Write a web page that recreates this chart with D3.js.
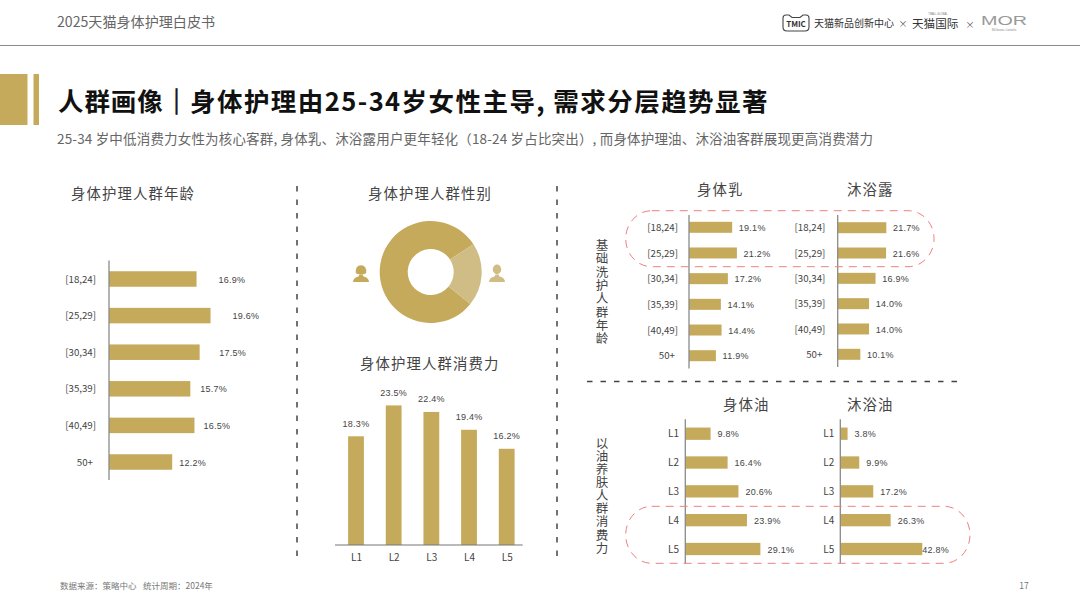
<!DOCTYPE html>
<html><head><meta charset="utf-8">
<script src="https://cdn.jsdelivr.net/npm/d3@7/dist/d3.min.js"></script>
<style>
html,body{margin:0;padding:0;background:#fff;overflow:hidden}
svg{display:block}
text{font-family:"Noto Sans CJK SC","Noto Sans",sans-serif}
.pct{font-family:"Liberation Sans",Arial,sans-serif;font-size:9px;fill:#444;letter-spacing:.25px}
</style></head><body>
<svg id="c" width="1080" height="606"></svg>
<script>
// ---------- data ----------
const ageCats = ["[18,24]","[25,29]","[30,34]","[35,39]","[40,49]","50+"];
const levelCats = ["L1","L2","L3","L4","L5"];
const ageAll = [16.9,19.6,17.5,15.7,16.5,12.2];
const spendAll = [18.3,23.5,22.4,19.4,16.2];
const genderLabels = ["女性","男性"];
const genderShare = [80,20];
const lotionAge = [19.1,21.2,17.2,14.1,14.4,11.9];
const washAge = [21.7,21.6,16.9,14.0,14.0,10.1];
const bodyOilSpend = [9.8,16.4,20.6,23.9,29.1];
const bathOilSpend = [3.8,9.9,17.2,26.3,42.8];

// ---------- palette ----------
const GOLD="#c5aa5b", GOLD_L="#cfbd85", AXIS="#8a8a8a", INK="#444", RED="#ee8080";
const svg=d3.select("#c");

function txt(s,x,y,o={}){
  const t=svg.append("text").attr("x",x).attr("y",y).text(s)
    .attr("font-size",o.size||12).attr("fill",o.fill||INK)
    .attr("text-anchor",o.anchor||"start");
  if(o.weight)t.attr("font-weight",o.weight);
  if(o.ls)t.attr("letter-spacing",o.ls);
  if(o.family)t.style("font-family",o.family);
  return t;
}
function line(x1,y1,x2,y2,c,w,dash){
  const l=svg.append("line").attr("x1",x1).attr("y1",y1).attr("x2",x2).attr("y2",y2)
    .attr("stroke",c).attr("stroke-width",w);
  if(dash)l.attr("stroke-dasharray",dash);
  return l;
}

// ---------- page chrome ----------
txt("2025天猫身体护理白皮书",57,27,{size:14.1,fill:"#666"});
line(0,45.5,1080,45.5,"#8c8c8c",1.2);
svg.append("rect").attr("x",0).attr("y",74).attr("width",27.5).attr("height",51).attr("fill",GOLD);
svg.append("rect").attr("x",33.5).attr("y",74).attr("width",5.5).attr("height",51).attr("fill",GOLD);
const TT={size:25.5,weight:700,fill:"#111"};
txt("人群画像",58,111,{...TT,ls:"0.9px"});
txt("｜",176.5,111,{...TT,anchor:"middle"}).attr("stroke","#111").attr("stroke-width",0.8);
txt("身体护理由25-34岁女性主导, 需求分层趋势显著",190,111,{...TT,ls:"1.45px"});
txt("25-34 岁中低消费力女性为核心客群, 身体乳、沐浴露用户更年轻化（18-24 岁占比突出）, 而身体护理油、沐浴油客群展现更高消费潜力",57,143.5,{size:13.5,fill:"#666",ls:"0.17px"});
txt("数据来源：策略中心",60,589,{size:8.5,fill:"#777"});
txt("统计周期：2024年",143,589,{size:8.5,fill:"#777"});
txt("17",1024,589,{size:8.5,fill:"#777",anchor:"middle"});

// logos
const logo=svg.append("g");
logo.append("path").attr("d","M783 18 q0-3 3-3 l3 0 l3 2.5 h8 l3-2.5 l3 0 q3 0 3 3 v9 q0 4-4 4 h-18 q-4 0-4-4z")
  .attr("fill","none").attr("stroke","#444").attr("stroke-width",1.1);
txt("TMIC",796,27,{size:8,weight:700,fill:"#333",anchor:"middle"});
txt("天猫新品创新中心",814,27,{size:10,fill:"#333"});
txt("×",903,27,{size:9,fill:"#555",anchor:"middle"});
txt("TMALL GLOBAL",938,14.5,{size:2.6,fill:"#777",anchor:"middle",family:"Liberation Sans"});
txt("天猫国际",912,28,{size:11.6,fill:"#333"});
txt("×",970,28,{size:9,fill:"#555",anchor:"middle"});
txt("MOR",981,25,{size:12,fill:"#999",family:"Liberation Sans"})
  .attr("textLength",46).attr("lengthAdjust","spacingAndGlyphs");
txt("Melbourne Australia",1004,31,{size:3,fill:"#888",anchor:"middle",family:"Liberation Serif"});

// dividers
line(297,186,297,559,"#444",1.5,"5.5 8");
line(557,186,557,559,"#444",1.5,"5.5 8");
line(587,381.5,958,381.5,"#444",1.5,"5.5 8");

// section titles
const H={size:14.4,fill:"#444",ls:"1.1px"};
txt("身体护理人群年龄",71,199,H);
txt("身体护理人群性别",368,199,H);
txt("身体护理人群消费力",360,369,H);
txt("身体乳",697,195,H);
txt("沐浴露",847,195,H);
txt("身体油",723,410,H);
txt("沐浴油",847,410,H);

// vertical group labels
function vert(s,x,y,ls){
  svg.append("text").attr("x",x).attr("y",y).text(s)
    .attr("font-size",12.5).attr("fill",INK)
    .style("writing-mode","vertical-rl").style("text-orientation","upright")
    .style("letter-spacing",ls+"px");
}
vert("基础洗护人群年龄",602,239,0.85);
vert("以油养肤人群消费力",602,436.5,0.65);

// ---------- horizontal bars ----------
function hbar(cfg){
  const x=d3.scaleLinear().domain([0,100]).range([cfg.x0,cfg.x0+cfg.perPct*100]);
  const y=d3.scalePoint().domain(cfg.cats).range(cfg.yRange);
  const g=svg.append("g");
  g.selectAll("rect").data(cfg.values).join("rect")
    .attr("x",x(0)).attr("y",(d,i)=>y(cfg.cats[i])-cfg.h/2)
    .attr("width",d=>x(d)-x(0)).attr("height",cfg.h).attr("fill",GOLD);
  g.selectAll("text.pct").data(cfg.values).join("text").attr("class","pct")
    .attr("x",(d,i)=>x(d)+(cfg.gaps?cfg.gaps[i]:cfg.gap))
    .attr("y",(d,i)=>y(cfg.cats[i])+3.6).text(d=>d.toFixed(1)+"%");
  const ax=g.append("g").attr("transform",`translate(${cfg.x0},0)`)
    .call(d3.axisLeft(y).tickSize(0).tickPadding(cfg.pad));
  ax.select(".domain").remove();
  ax.selectAll("text").attr("font-size",cfg.fs).attr("fill",INK)
    .style("font-family",'"Noto Sans CJK SC"');
  ax.selectAll("text").filter(d=>d==="50+").attr("dx",cfg.plusDx||0);
  line(cfg.x0,cfg.axis[0],cfg.x0,cfg.axis[1],AXIS,1.3);
}
const leftGaps=[22,22,19.5,10,9,7];
hbar({cats:ageCats,values:ageAll,x0:109,perPct:5.18,yRange:[279,462],h:15.5,gaps:leftGaps,pad:13,fs:9.7,axis:[260.5,480],plusDx:-3});
hbar({cats:ageCats,values:lotionAge,x0:689,perPct:2.26,yRange:[227.3,355.7],h:11,gap:6.7,pad:11,fs:9.7,axis:[215,368.5],plusDx:-3});
hbar({cats:ageCats,values:washAge,x0:837.7,perPct:2.24,yRange:[227.7,354.3],h:11,gap:6.7,pad:12.4,fs:9.7,axis:[215,367],plusDx:-3});
hbar({cats:levelCats,values:bodyOilSpend,x0:685.3,perPct:2.58,yRange:[433.7,549],h:12.3,gap:7,pad:6.3,fs:10,axis:[419.3,563.5]});
hbar({cats:levelCats,values:bathOilSpend,x0:840.3,perPct:1.915,yRange:[433.7,549],h:12.3,gaps:[7,7,7,7,0],pad:6,fs:10,axis:[419.3,563.5]});

// ---------- columns ----------
{
  const x=d3.scalePoint().domain(levelCats).range([356,506.7]);
  const y=d3.scaleLinear().domain([0,100]).range([545,545-594]);
  const g=svg.append("g");
  g.selectAll("rect").data(spendAll).join("rect")
    .attr("x",(d,i)=>x(levelCats[i])-7.9).attr("width",15.8)
    .attr("y",d=>y(d)).attr("height",d=>y(0)-y(d)).attr("fill",GOLD);
  g.selectAll("text.pct").data(spendAll).join("text").attr("class","pct")
    .attr("text-anchor","middle").attr("x",(d,i)=>x(levelCats[i]))
    .attr("y",d=>y(d)-9.5).text(d=>d.toFixed(1)+"%");
  const ax=g.append("g").attr("transform","translate(0,545)")
    .call(d3.axisBottom(x).tickSize(0).tickPadding(9));
  ax.select(".domain").remove();
  ax.selectAll("text").attr("font-size",10).attr("fill",INK).style("font-family",'"Noto Sans CJK SC"');
  line(335,545,522.7,545,"#777",1.2);
}

// ---------- donut ----------
{
  const start=129/180*Math.PI;
  const pie=d3.pie().sort(null).startAngle(start).endAngle(start+2*Math.PI);
  const arc=d3.arc().innerRadius(23).outerRadius(51);
  const g=svg.append("g").attr("transform","translate(430.7,272)");
  g.selectAll("path").data(pie(genderShare)).join("path")
    .attr("d",arc).attr("fill",(d,i)=>i===0?GOLD:GOLD_L)
    .append("title").text((d,i)=>genderLabels[i]);
}
// person icons
function person(cx,cy,c,hair){
  const g=svg.append("g").attr("transform",`translate(${cx},${cy})`).attr("fill",c);
  if(hair) g.append("path").attr("d","M-5.2-1 q-.6-7.8 5.2-7.8 q5.8 0 5.2 7.8 q-2 1.6-5.2 1.6 q-3.2 0-5.2-1.6z");
  else g.append("ellipse").attr("cx",0).attr("cy",-4.6).attr("rx",4.2).attr("ry",4.8);
  g.append("path").attr("d","M-8 8 q0-4.2 5.5-5.6 l1-2 h3 l1 2 q5.5 1.4 5.5 5.6z");
}
person(361,274,GOLD,true);
person(497,274,GOLD_L,false);

// ---------- dashed highlights ----------
function pill(x,y,w,h,rx){
  svg.append("rect").attr("x",x).attr("y",y).attr("width",w).attr("height",h)
    .attr("rx",rx).attr("ry",h/2).attr("fill","none")
    .attr("stroke",RED).attr("stroke-width",1).attr("stroke-dasharray","8 6");
}
pill(625.7,210.7,308.3,56,26);
pill(625.7,506.3,344.3,57,26);
</script></body></html>
